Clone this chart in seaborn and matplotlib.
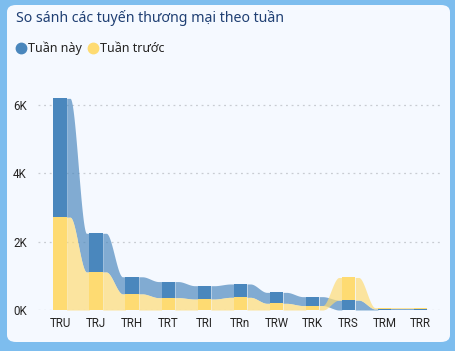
import numpy as np
import pandas as pd
import matplotlib
matplotlib.use("Agg")
import matplotlib.pyplot as plt
import seaborn as sns
from matplotlib.patches import FancyBboxPatch
from matplotlib.lines import Line2D

categories = ["TRU", "TRJ", "TRH", "TRT", "TRI", "TRn", "TRW", "TRK", "TRS", "TRM", "TRR"]
tuan_nay = [3470, 1130, 500, 470, 390, 390, 320, 260, 290, 30, 30]
tuan_truoc = [2710, 1110, 470, 360, 320, 370, 195, 130, 660, 40, 40]
series_names = ["Tuần này", "Tuần trước"]
y_ticks = [0, 2000, 4000, 6000]
y_labels = ["0K", "2K", "4K", "6K"]

COL = {"Tuần này": "#4A87BD", "Tuần trước": "#FEDB72"}
RIB_ALPHA = 0.68
BG = "#F5F9FF"

sns.set_theme(style="white")
plt.rcParams["font.family"] = ["Noto Sans", "DejaVu Sans"]

W, H = 455, 351
fig = plt.figure(figsize=(W / 100, H / 100), dpi=100)
fig.patch.set_facecolor("#7DBDEE")
frame = FancyBboxPatch((7 / W, 9 / H), (450 - 7) / W, (346 - 9) / H,
                       boxstyle="round,pad=0,rounding_size=0.02",
                       transform=fig.transFigure, facecolor=BG, edgecolor="none", zorder=-5)
fig.patches.append(frame)

ax = fig.add_axes([38 / W, 1 - 310 / H, (440 - 38) / W, (310 - 90.8) / H])
ax.set_facecolor("none")
ax.set_zorder(2)

n = len(categories)
vals = {"Tuần này": np.array(tuan_nay, float), "Tuần trước": np.array(tuan_truoc, float)}
# Ribbon ordering: larger value on top
lo = {s: np.zeros(n) for s in series_names}
hi = {s: np.zeros(n) for s in series_names}
top_colors, bot_colors, totals, lows = [], [], [], []
for i in range(n):
    a, b = vals[series_names[0]][i], vals[series_names[1]][i]
    small, big = (series_names[0], series_names[1]) if a <= b else (series_names[1], series_names[0])
    lo[small][i] = 0
    hi[small][i] = vals[small][i]
    lo[big][i] = vals[small][i]
    hi[big][i] = vals[small][i] + vals[big][i]
    top_colors.append(COL[big])
    bot_colors.append(COL[small])
    totals.append(hi[big][i])
    lows.append(vals[small][i])

width = 0.37
df_tot = pd.DataFrame({"cat": categories, "v": totals})
df_low = pd.DataFrame({"cat": categories, "v": lows})
sns.barplot(data=df_tot, x="cat", y="v", hue="cat", palette=top_colors, width=width,
            legend=False, ax=ax, saturation=1, zorder=3, linewidth=0)
sns.barplot(data=df_low, x="cat", y="v", hue="cat", palette=bot_colors, width=width,
            legend=False, ax=ax, saturation=1, zorder=4, linewidth=0)

def smooth(t):
    t = np.clip((t - 0.15) / 0.72, 0, 1)
    return t * t * (3 - 2 * t)

for s in ["Tuần này", "Tuần trước"]:
    for i in range(n - 1):
        x0 = i + width / 2
        x1 = i + 1 - width / 2
        xs = np.linspace(x0, x1, 80)
        t = smooth((xs - x0) / (x1 - x0))
        ylo = lo[s][i] + (lo[s][i + 1] - lo[s][i]) * t
        yhi = hi[s][i] + (hi[s][i + 1] - hi[s][i]) * t
        z = 2.5 if s == "Tuần trước" else 2
        ax.fill_between(xs, ylo, yhi, color=COL[s], alpha=RIB_ALPHA, linewidth=0, zorder=z)

ax.set_xlim(-0.61, 10.535)
ax.set_ylim(0, 6400)
ax.set_yticks(y_ticks)
ax.set_yticklabels(y_labels)
for y in y_ticks:
    ax.axhline(y, color="#C8CCD2", lw=0.9, ls=(0, (1.5, 3)), zorder=1)
for sp in ax.spines.values():
    sp.set_visible(False)
ax.set_xlabel("")
ax.set_ylabel("")
ax.tick_params(axis="both", length=0, labelsize=8, colors="#252423")
ax.tick_params(axis="x", pad=12.3)
ax.tick_params(axis="y", pad=8)
for lbl in ax.get_xticklabels():
    lbl.set_verticalalignment("baseline")
    lbl.set_fontfamily(["Roboto", "DejaVu Sans"])
    lbl.set_fontsize(8.3)
for lbl in ax.get_yticklabels():
    lbl.set_fontfamily(["Roboto", "DejaVu Sans"])
    lbl.set_fontsize(8.3)
ax.grid(False)

fig.text(16 / W, 1 - 18 / H, "So sánh các tuyến thương mại theo tuần", fontsize=10.2,
         fontweight="bold", color="#1F3F73", va="center", ha="left")
fig.text(28 / W, 1 - 48 / H, "Tuần này", fontsize=9, color="#252423", va="center", ha="left")
fig.text(100 / W, 1 - 48 / H, "Tuần trước", fontsize=9, color="#252423", va="center", ha="left")
fig.add_artist(Line2D([21 / W], [1 - 48 / H], marker="o", markersize=7.5, lw=0,
                      color=COL["Tuần này"], transform=fig.transFigure))
fig.add_artist(Line2D([93 / W], [1 - 48 / H], marker="o", markersize=7.5, lw=0,
                      color=COL["Tuần trước"], transform=fig.transFigure))

fig.savefig("out.png", dpi=100, facecolor=fig.get_facecolor())
